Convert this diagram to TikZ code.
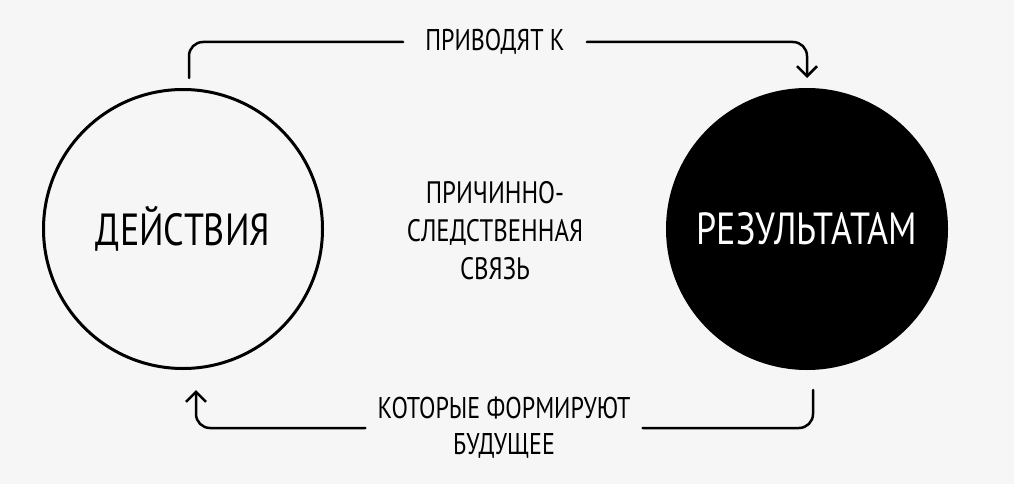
\documentclass[tikz,border=0pt]{standalone}
\usepackage{fontspec}
\setmainfont[FakeStretch=0.8]{PT Sans}
\usetikzlibrary{arrows.meta}
\definecolor{paper}{HTML}{F6F6F6}

\begin{document}
\begin{tikzpicture}[x=1pt,y=-1pt,
        ring/.style={circle, draw, line width=3pt, minimum size=279pt, inner sep=0pt,
            font=\fontsize{45}{45}\selectfont},
        note/.style={inner ysep=2pt, font=\fontsize{30}{36}\selectfont},
        link/.style={line width=2.5pt, rounded corners=14pt, line cap=round},
        tip/.style={-{Straight Barb[length=10pt,width=20pt]}}]
        \fill[paper] (0,0) rectangle (1014,484);
        \useasboundingbox (0,0) rectangle (1014,484);

        \node[ring, fill=paper] (acts) at (183,229) {ДЕЙСТВИЯ};
        \node[ring, fill=black, text=white] (results) at (807,229) {РЕЗУЛЬТАТАМ};

        \node[note, align=center, font=\fontsize{31}{38}\selectfont] (cause) at (495,231) {ПРИЧИННО-\\СЛЕДСТВЕННАЯ\\СВЯЗЬ};
        \node[note, inner xsep=22pt] (lead) at (495,42) {ПРИВОДЯТ К};
        \node[note, inner xsep=12pt, align=center] (form) at (504,428) {КОТОРЫЕ ФОРМИРУЮТ\\БУДУЩЕЕ};

        \coordinate (a1) at (189,78);
        \coordinate (a2) at (807,78);
        \coordinate (b1) at (813,390);
        \coordinate (b2) at (196,390);

        \draw[link] (a1) |- (lead.west);
        \draw[link, tip] (lead.east) -| (a2);
        \draw[link] (b1) |- (form.east);
        \draw[link, tip] (form.west) -| (b2);
    \end{tikzpicture}
\end{document}
